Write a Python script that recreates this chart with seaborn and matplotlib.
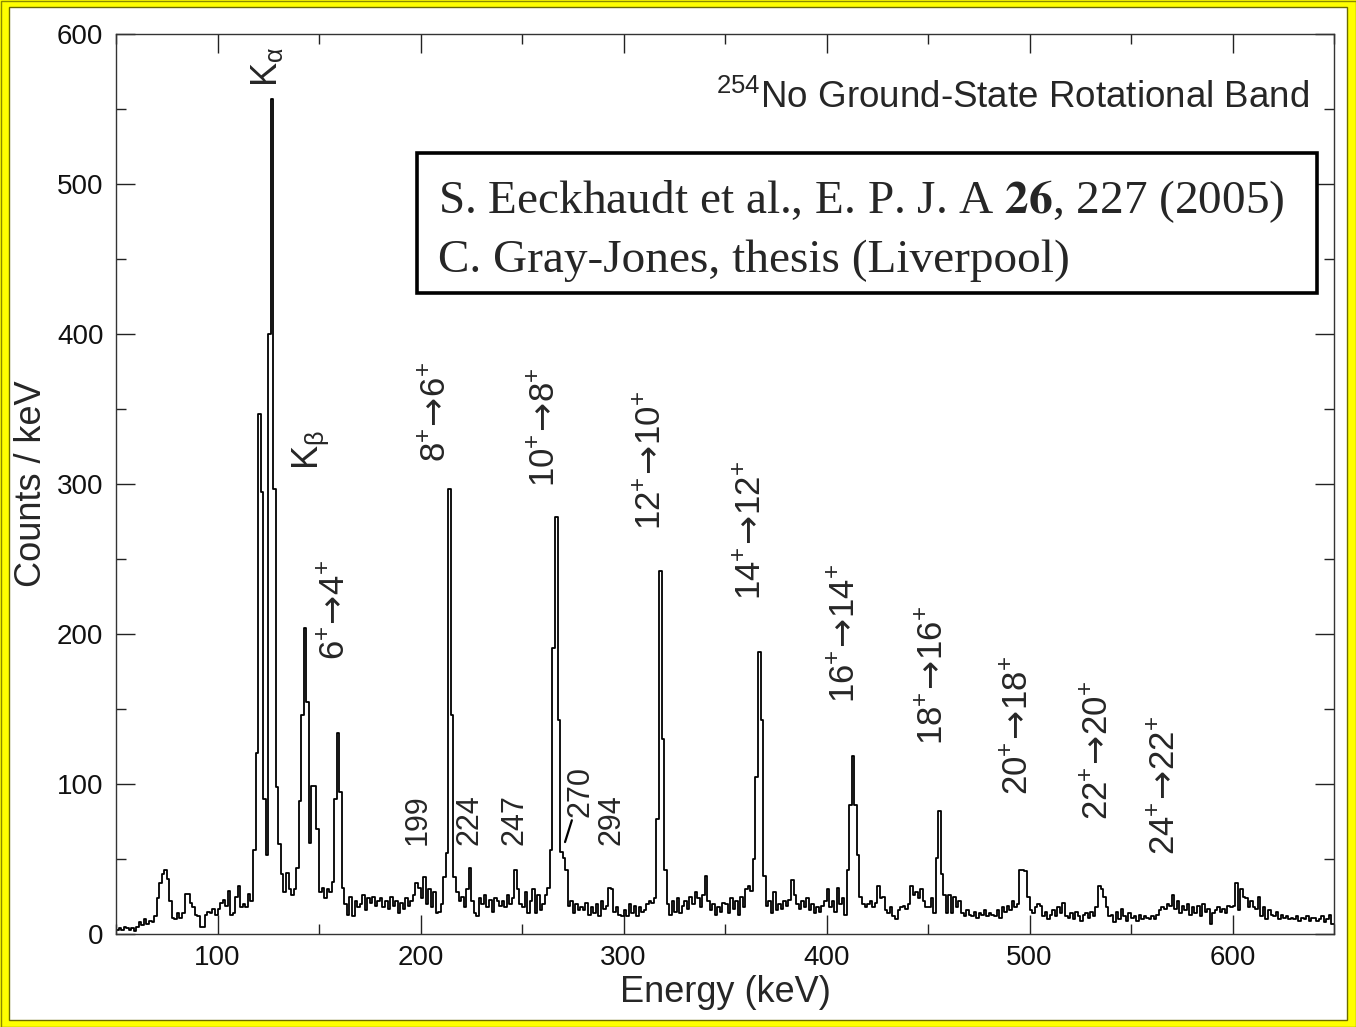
import numpy as np
import pandas as pd
import matplotlib
matplotlib.use("Agg")
import matplotlib.pyplot as plt
from matplotlib.patches import Rectangle
from matplotlib.ticker import MultipleLocator
import seaborn as sns

# ---------------- data (counts per 1.25 keV bin, 50-650 keV) ----------------
bin_width = 1.25
e_min, e_max = 50, 650

counts_050_150 = [3, 4, 3, 5, 4, 3, 4, 2,
                  5, 8, 6, 10, 7, 9, 8, 12,
                  24, 34, 40, 43, 37, 22, 11, 10,
                  14, 11, 14, 27, 27, 21, 18, 13,
                  12, 5, 5, 13, 15, 14, 17, 13,
                  17, 21, 23, 19, 29, 13, 14, 25,
                  32, 18, 20, 18, 27, 22, 56, 121,
                  347, 295, 90, 53, 400, 557, 297, 98,
                  60, 40, 28, 41, 30, 26, 30, 44,
                  89, 146, 204, 155, 61, 99, 99, 70]
counts_150_250 = [28, 31, 24, 30, 28, 35, 90, 134,
                  95, 31, 20, 13, 25, 12, 22, 18,
                  20, 26, 16, 24, 21, 25, 19, 22,
                  24, 18, 22, 17, 25, 19, 22, 14,
                  21, 17, 24, 19, 22, 26, 34, 31,
                  24, 38, 20, 30, 18, 28, 14, 15,
                  20, 38, 54, 297, 146, 38, 28, 22,
                  25, 18, 30, 44, 22, 14, 12, 24,
                  20, 26, 18, 23, 15, 24, 22, 19,
                  22, 18, 26, 20, 24, 43, 30, 20]
counts_250_350 = [18, 28, 14, 22, 30, 14, 26, 16,
                  20, 26, 31, 56, 191, 278, 143, 55,
                  51, 43, 19, 22, 14, 20, 16, 18,
                  16, 21, 13, 18, 14, 20, 12, 22,
                  17, 19, 31, 30, 15, 18, 13, 12,
                  16, 12, 20, 14, 19, 12, 18, 15,
                  16, 20, 22, 21, 24, 77, 242, 130,
                  43, 20, 13, 22, 15, 24, 14, 19,
                  22, 17, 25, 20, 28, 24, 18, 26,
                  39, 22, 16, 20, 13, 18, 15, 21]
counts_350_450 = [20, 14, 24, 17, 22, 13, 25, 18,
                  30, 32, 29, 50, 105, 188, 143, 39,
                  19, 22, 14, 28, 16, 20, 17, 22,
                  19, 23, 36, 26, 20, 17, 22, 18,
                  24, 16, 20, 14, 18, 15, 19, 22,
                  30, 18, 22, 15, 31, 20, 24, 13,
                  43, 86, 119, 86, 53, 25, 20, 18,
                  20, 22, 18, 21, 32, 24, 25, 16,
                  14, 18, 12, 10, 16, 18, 19, 17,
                  20, 32, 26, 28, 24, 30, 22, 18]
counts_450_550 = [18, 24, 14, 51, 82, 40, 26, 14,
                  26, 14, 25, 18, 22, 14, 12, 16,
                  13, 12, 15, 11, 14, 13, 16, 12,
                  14, 13, 12, 16, 11, 18, 15, 19,
                  16, 22, 18, 20, 43, 43, 42, 25,
                  16, 14, 18, 20, 19, 12, 15, 10,
                  13, 16, 12, 18, 14, 21, 12, 11,
                  14, 10, 15, 12, 9, 13, 14, 11,
                  15, 12, 18, 32, 30, 25, 18, 12,
                  13, 8, 15, 10, 17, 12, 9, 14]
counts_550_650 = [11, 12, 9, 13, 10, 12, 11, 10,
                  12, 10, 13, 16, 18, 17, 20, 19,
                  26, 17, 22, 14, 19, 16, 20, 13,
                  18, 14, 19, 12, 20, 15, 17, 7,
                  14, 16, 18, 15, 17, 14, 19, 18,
                  19, 34, 16, 30, 25, 24, 18, 22,
                  18, 17, 25, 12, 18, 10, 16, 13,
                  12, 15, 10, 13, 11, 12, 10, 11,
                  10, 12, 9, 11, 10, 12, 9, 11,
                  11, 9, 10, 12, 8, 10, 13, 7]

spin_from = [6, 8, 10, 12, 14, 16, 18, 20, 22, 24]
spin_to = [4, 6, 8, 10, 12, 14, 16, 18, 20, 22]
transition_x = [157.9, 208.1, 261.8, 314.0, 363.3, 409.6, 452.5, 494.8, 534.2, 567.2]
transition_y = [182.7, 314.7, 298.0, 269.0, 222.7, 154.0, 126.0, 92.7, 76.0, 52.7]

small_labels = ["199", "224", "247", "294"]
small_x = [198.8, 223.9, 246.1, 294.3]
small_y = [59.3, 59.3, 59.3, 59.3]

xray_labels = [r"$\mathregular{K_{\alpha}}$", r"$\mathregular{K_{\beta}}$"]
xray_x = [124.5, 146.0]
xray_y = [564.7, 309.0]

x_ticks = [100, 200, 300, 400, 500, 600]
y_ticks = [0, 100, 200, 300, 400, 500, 600]

# ---------------- build frame ----------------
counts = np.array(counts_050_150 + counts_150_250 + counts_250_350 +
                  counts_350_450 + counts_450_550 + counts_550_650, dtype=float)
n_bins = len(counts)
centers = e_min + bin_width * (np.arange(n_bins) + 0.5)
df = pd.DataFrame({"energy": centers, "counts": counts})

# ---------------- style ----------------
sns.set_style("ticks")
plt.rcParams["font.family"] = ["Liberation Sans", "DejaVu Sans"]
plt.rcParams["mathtext.fontset"] = "custom"
plt.rcParams["mathtext.rm"] = "Liberation Sans"
plt.rcParams["mathtext.it"] = "Liberation Sans:italic"
plt.rcParams["mathtext.bf"] = "Liberation Sans:bold"
plt.rcParams["mathtext.sf"] = "DejaVu Sans"
plt.rcParams["axes.linewidth"] = 1.0

W, H = 1356, 1027
fig = plt.figure(figsize=(W / 100, H / 100), dpi=100)
fig.patch.set_facecolor("#FFFF00")
fig.patches.append(Rectangle((0.5 / W, 0.5 / H), 1 - 1 / W, 1 - 1 / H,
                             transform=fig.transFigure, fc="none",
                             ec="#8a8a00", lw=1.0, zorder=-10))
fig.patches.append(Rectangle((9 / W, 7 / H), (1347 - 9) / W, (1020 - 7) / H,
                             transform=fig.transFigure, fc="white",
                             ec="#6b6b00", lw=1.0, zorder=-10))

ax = fig.add_axes([116 / W, (H - 934) / H, (1334 - 116) / W, (934 - 34) / H])
ax.set_zorder(5)
ax.set_facecolor("white")

sns.histplot(data=df, x="energy", weights="counts", binwidth=bin_width,
             binrange=(e_min, e_max), element="step", fill=False,
             color="black", linewidth=1.3, ax=ax)

ax.set_xlim(e_min, e_max)
ax.set_ylim(0, 600)
ax.set_xticks(x_ticks)
ax.set_yticks(y_ticks)
ax.xaxis.set_minor_locator(MultipleLocator(50))
ax.yaxis.set_minor_locator(MultipleLocator(50))
ax.tick_params(which="both", direction="in", top=True, right=True,
               width=1.0, color="#222222", labelsize=20, labelcolor="#111111")
ax.tick_params(which="major", length=14)
ax.tick_params(which="minor", length=7)
ax.tick_params(axis="x", pad=8)
ax.tick_params(axis="y", pad=9)
for s in ax.spines.values():
    s.set_color("#333333")

ax.set_xlabel("Energy (keV)", fontsize=26, labelpad=3)
ax.set_ylabel("Counts / keV", fontsize=26, labelpad=6)

for a, b, x, y in zip(spin_from, spin_to, transition_x, transition_y):
    lab = r"$%d^{+}\!\mathsf{\rightarrow}\!%d^{+}$" % (a, b)
    ax.text(x, y, lab, rotation=90, ha="center", va="bottom", fontsize=25)
for lab, x, y in zip(small_labels, small_x, small_y):
    ax.text(x, y, lab, rotation=90, ha="center", va="bottom", fontsize=22)
for lab, x, y in zip(xray_labels, xray_x, xray_y):
    ax.text(x, y, lab, rotation=90, ha="center", va="bottom", fontsize=26)

ax.annotate("270", xy=(271.2, 61.3), xytext=(279.0, 78.0), rotation=90,
            ha="center", va="bottom", fontsize=22,
            arrowprops=dict(arrowstyle="-", lw=1.6, color="black",
                            shrinkA=0, shrinkB=0))

ax.text(0.980, 0.918, r"$^{254}$No Ground-State Rotational Band",
        transform=ax.transAxes, ha="right", va="baseline", fontsize=26.5)

ax.add_patch(Rectangle((0.2471, 0.7122), 0.7389, 0.1556, transform=ax.transAxes,
                       fc="white", ec="black", lw=2.6, zorder=5))
ax.text(0.2644, 0.801, r"S. Eeckhaudt et al., E. P. J. A $\mathbf{26}$, 227 (2005)",
        transform=ax.transAxes, ha="left", va="baseline", fontsize=34,
        family="Liberation Serif", math_fontfamily="stix", zorder=6)
ax.text(0.2644, 0.7356, "C. Gray-Jones, thesis (Liverpool)",
        transform=ax.transAxes, ha="left", va="baseline", fontsize=34,
        family="Liberation Serif", zorder=6)

fig.savefig("out.png", dpi=100, facecolor=fig.get_facecolor())
